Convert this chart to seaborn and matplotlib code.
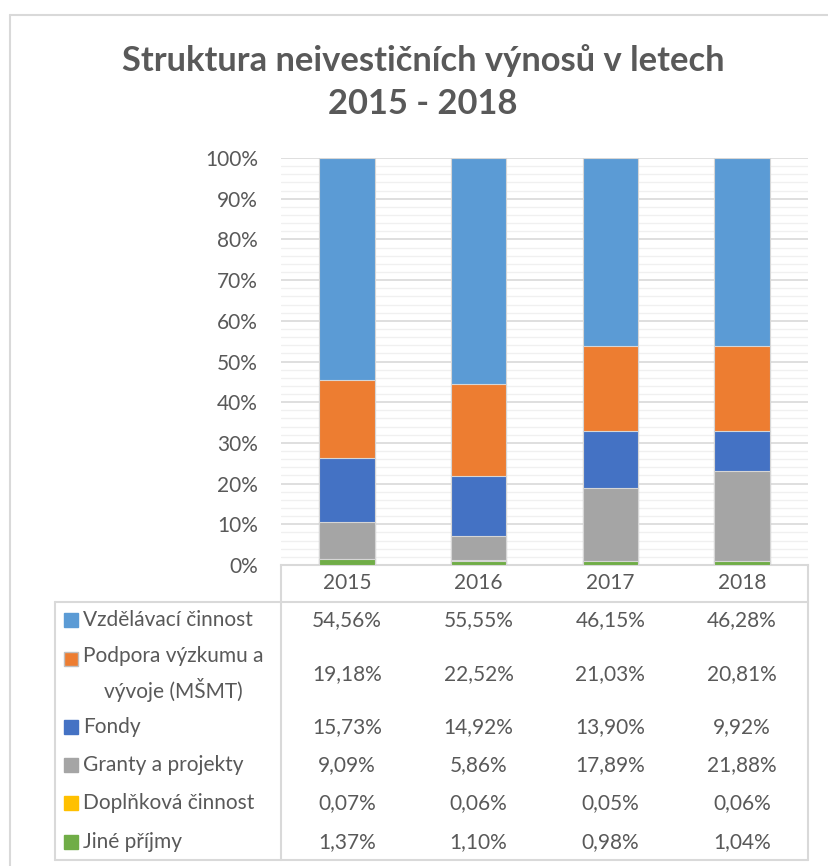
import numpy as np
import seaborn as sns
import matplotlib.pyplot as plt
import matplotlib.ticker as ticker
from matplotlib.lines import Line2D
from matplotlib.patches import Rectangle
from matplotlib.transforms import blended_transform_factory

# Data (podíly v %)
roky = ['2015', '2016', '2017', '2018']
kategorie = ['Vzdělávací činnost', 'Podpora výzkumu a\nvývoje (MŠMT)', 'Fondy',
             'Granty a projekty', 'Doplňková činnost', 'Jiné příjmy']
vzdelavaci = [54.56, 55.55, 46.15, 46.28]
podpora = [19.18, 22.52, 21.03, 20.81]
fondy = [15.73, 14.92, 13.90, 9.92]
granty = [9.09, 5.86, 17.89, 21.88]
doplnkova = [0.07, 0.06, 0.05, 0.06]
jine = [1.37, 1.10, 0.98, 1.04]
barvy = ['#5B9BD5', '#ED7D31', '#4472C4', '#A5A5A5', '#FFC000', '#70AD47']

serie = [vzdelavaci, podpora, fondy, granty, doplnkova, jine]

sns.set_theme(style='white')
plt.rcParams['font.family'] = ['Lato', 'DejaVu Sans']
seda = '#595959'
mrizka = '#D9D9D9'
fs = 15

W, H = 829, 866
fig = plt.figure(figsize=(W / 100, H / 100), dpi=100)


def fx(px):
    return px / W


def fy(py):
    return 1 - py / H


ax = fig.add_axes([fx(281), fy(565), fx(808) - fx(281), fy(158) - fy(565)])

# Skládané sloupce: kumulativní součty od spodu (Jiné příjmy dole)
spodni_poradi = serie[::-1]
barvy_spod = barvy[::-1]
kumul = np.cumsum(np.array(spodni_poradi), axis=0)
for i in range(len(kumul) - 1, -1, -1):
    sns.barplot(x=roky, y=kumul[i], color=barvy_spod[i], width=0.42, saturation=1,
                edgecolor='#D6D6D6', linewidth=0.8, ax=ax, zorder=3)

ax.set_xlim(-0.5, 3.5)
ax.set_ylim(0, 100)
ax.yaxis.set_major_locator(ticker.MultipleLocator(10))
ax.yaxis.set_minor_locator(ticker.MultipleLocator(2))
ax.yaxis.set_major_formatter(ticker.FuncFormatter(lambda v, _: f'{int(v)}%'))
ax.grid(axis='y', which='major', color=mrizka, linewidth=1.2, zorder=0)
ax.grid(axis='y', which='minor', color='#F0F0F0', linewidth=1.0, zorder=0)
ax.set_axisbelow(True)
ax.tick_params(axis='y', which='both', length=0, pad=16.5, labelsize=fs, labelcolor=seda)
ax.set_xticks([])
ax.set_xlabel('')
ax.set_ylabel('')
for s in ['left', 'right', 'top']:
    ax.spines[s].set_visible(False)
ax.spines['bottom'].set_color(mrizka)
ax.spines['bottom'].set_linewidth(1.5)

# Nadpis
fig.text(fx(423), fy(71), 'Struktura neivestičních výnosů v letech', ha='center',
         va='baseline', fontsize=24.8, weight='bold', color=seda)
fig.text(fx(423), fy(114), '2015 - 2018', ha='center', va='baseline',
         fontsize=24.8, weight='bold', color=seda)

# Rámeček grafu
fig.add_artist(Line2D([fx(10), fx(10)], [fy(15), fy(866)], color=mrizka, lw=1.5))
fig.add_artist(Line2D([fx(10), fx(829)], [fy(15), fy(15)], color=mrizka, lw=1.5))

# Tabulka dat
car = dict(color=mrizka, lw=1.5)
fig.add_artist(Line2D([fx(281), fx(281)], [fy(565), fy(860)], **car))
fig.add_artist(Line2D([fx(808), fx(808)], [fy(565), fy(860)], **car))
fig.add_artist(Line2D([fx(55), fx(808)], [fy(602), fy(602)], **car))
fig.add_artist(Line2D([fx(55), fx(808)], [fy(860), fy(860)], **car))
fig.add_artist(Line2D([fx(55), fx(55)], [fy(602), fy(860)], **car))

tr = blended_transform_factory(ax.transData, fig.transFigure)
for i, r in enumerate(roky):
    fig.text(i, fy(583), r, transform=tr, ha='center', va='center', fontsize=fs, color=seda)

radky_y = [620, 674, 727, 765, 803, 842]
for k, (nazev, hodnoty, c, yy) in enumerate(zip(kategorie, serie, barvy, radky_y)):
    for i, v in enumerate(hodnoty):
        fig.text(i, fy(yy), f'{v:.2f}%'.replace('.', ','), transform=tr, ha='center',
                 va='center', fontsize=fs, color=seda)
    ylab = yy if '\n' not in nazev else 659
    fig.add_artist(Rectangle((fx(64), fy(ylab + 7)), 14 / W, 14 / H, facecolor=c,
                             edgecolor='#BFBFBF' if k == 1 else c, lw=1))
    fig.text(fx(83), fy(yy), nazev, ha='left', va='center',
             fontsize=fs, color=seda, multialignment='center', linespacing=1.6)

fig.savefig('out.png', dpi=100)
